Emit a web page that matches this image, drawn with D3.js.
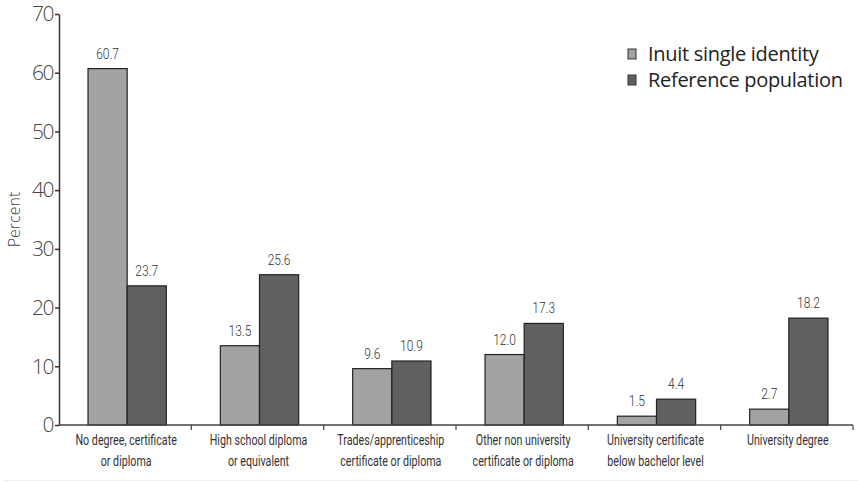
<!DOCTYPE html>
<html lang="en">
  <head>
    <meta charset="UTF-8" />
    <script src="https://d3js.org/d3.v7.min.js"></script>
    <style>
      body { margin: 0; background: #fff; }
    </style>
  </head>
  <body>
    <div id="chart"></div>
    <script>
      // chart data
      const categories = [
        ["No degree, certificate", "or diploma"],
        ["High school diploma", "or equivalent"],
        ["Trades/apprenticeship", "certificate or diploma"],
        ["Other non university", "certificate or diploma"],
        ["University certificate", "below bachelor level"],
        ["University degree"]
      ];
      const seriesNames = ["Inuit single identity", "Reference population"];
      const inuit = [60.7, 13.5, 9.6, 12.0, 1.5, 2.7];
      const reference = [23.7, 25.6, 10.9, 17.3, 4.4, 18.2];
      const yTicks = [0, 10, 20, 30, 40, 50, 60, 70];
      const colors = ["#a3a3a3", "#606060"];

      const width = 858, height = 482;
      const margin = { top: 14, right: 5, bottom: 57, left: 59 };
      const innerW = width - margin.left - margin.right;
      const innerH = height - margin.top - margin.bottom;
      const narrow = "Roboto, 'Open Sans', sans-serif";

      const svg = d3
        .select("#chart")
        .append("svg")
        .attr("width", width)
        .attr("height", height);

      const g = svg
        .append("g")
        .attr("transform", `translate(${margin.left}, ${margin.top})`);

      const idx = d3.range(categories.length);
      const x = d3.scaleBand().domain(idx).range([0, innerW]);
      const x1 = d3.scaleBand().domain([0, 1]).range([0, x.bandwidth()]).paddingOuter(0.69);
      const y = d3.scaleLinear().domain([0, 70]).range([innerH, 0]);

      // bars
      const groups = g
        .selectAll(".grp")
        .data(idx)
        .join("g")
        .attr("transform", (i) => `translate(${x(i) + 2}, 0)`);

      groups
        .selectAll("rect")
        .data((i) => [inuit[i], reference[i]].map((v, s) => ({ v, s })))
        .join("rect")
        .attr("x", (d) => x1(d.s))
        .attr("y", (d) => y(d.v))
        .attr("width", x1.bandwidth())
        .attr("height", (d) => innerH - y(d.v))
        .attr("fill", (d) => colors[d.s])
        .attr("stroke", "#222")
        .attr("stroke-width", 1.2);

      groups
        .selectAll(".val")
        .data((i) => [inuit[i], reference[i]].map((v, s) => ({ v, s })))
        .join("text")
        .attr("class", "val")
        .attr("text-anchor", "middle")
        .attr("transform", (d) => `translate(${x1(d.s) + x1.bandwidth() / 2}, ${y(d.v) - 10}) scale(0.8, 1)`)
        .style("font-family", narrow)
        .style("font-weight", 300)
        .style("font-size", "15px")
        .attr("fill", "#333")
        .text((d) => d.v.toFixed(1));

      // y axis
      const yAxis = g
        .append("g")
        .call(d3.axisLeft(y).tickValues(yTicks).tickSize(4).tickSizeOuter(0).tickPadding(2));
      yAxis.selectAll("path, line").attr("stroke", "#333").attr("stroke-width", 1.5);
      yAxis
        .selectAll("text")
        .style("font-family", "'Open Sans', sans-serif")
        .style("font-weight", 300)
        .style("font-size", "21px")
        .style("letter-spacing", "-1.5px")
        .attr("fill", "#444");

      // x axis
      const xAxis = g.append("g").attr("transform", `translate(0, ${innerH})`);
      xAxis
        .append("line")
        .attr("x1", 0)
        .attr("x2", innerW)
        .attr("stroke", "#444")
        .attr("stroke-width", 1.5);
      xAxis
        .selectAll(".tk")
        .data(idx)
        .join("line")
        .attr("x1", (i) => x(i) + x.bandwidth())
        .attr("x2", (i) => x(i) + x.bandwidth())
        .attr("y1", 0)
        .attr("y2", 5)
        .attr("stroke", "#444")
        .attr("stroke-width", 1.2);

      xAxis
        .selectAll(".lbl")
        .data(idx)
        .join("text")
        .attr("text-anchor", "middle")
        .attr("transform", (i) => `translate(${x(i) + x.bandwidth() / 2 + 1}, 20) scale(0.69, 1)`)
        .style("font-family", narrow)
        .style("font-size", "15.5px")
        .attr("fill", "#333")
        .each(function (i) {
          d3.select(this)
            .selectAll("tspan")
            .data(categories[i])
            .join("tspan")
            .attr("x", 0)
            .attr("dy", (d, k) => (k === 0 ? 0 : 21))
            .text((d) => d);
        });

      // y title
      svg
        .append("text")
        .attr("transform", `translate(20, ${margin.top + y(35)}) rotate(-90)`)
        .attr("text-anchor", "middle")
        .style("font-family", "'Open Sans', sans-serif")
        .style("font-weight", 300)
        .style("font-size", "16px")
        .attr("fill", "#444")
        .text("Percent");

      // legend
      const legend = svg.append("g").attr("transform", "translate(628, 49)");
      const items = legend
        .selectAll("g")
        .data(seriesNames)
        .join("g")
        .attr("transform", (d, i) => `translate(0, ${i * 26})`);
      items
        .append("rect")
        .attr("width", 8)
        .attr("height", 10)
        .attr("fill", (d, i) => colors[i])
        .attr("stroke", "#333")
        .attr("stroke-width", 1);
      items
        .append("text")
        .attr("x", 20)
        .attr("y", 12)
        .style("font-family", "'Open Sans', sans-serif")
        .style("font-size", "20px")
        .style("letter-spacing", "-0.3px")
        .attr("fill", "#222")
        .text((d) => d);

      // faint bottom rule
      svg
        .append("line")
        .attr("x1", 4)
        .attr("x2", width)
        .attr("y1", 480.5)
        .attr("y2", 480.5)
        .attr("stroke", "#eee");
    </script>
  </body>
</html>
